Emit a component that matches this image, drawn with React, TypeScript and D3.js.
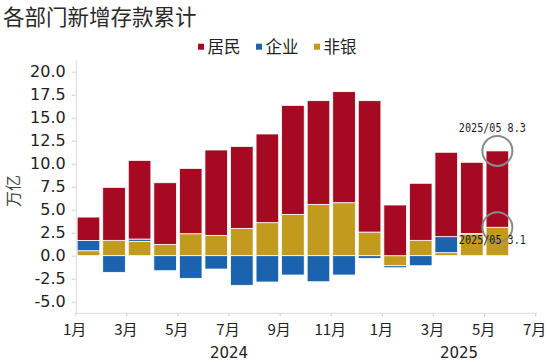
import { useEffect, useRef } from "react";
import * as d3 from "d3";

// cumulative new deposits by sector, trillion yuan
const months = [
  "2024-01", "2024-02", "2024-03", "2024-04", "2024-05", "2024-06",
  "2024-07", "2024-08", "2024-09", "2024-10", "2024-11", "2024-12",
  "2025-01", "2025-02", "2025-03", "2025-04", "2025-05", "2025-06",
];
const household = [2.54, 5.76, 8.55, 6.7, 7.1, 9.28, 8.91, 9.64, 11.85, 11.27, 12.07, 14.28, 5.51, 6.2, 9.17, 7.74, 8.3];
const enterprise = [1.12, -1.81, 0.25, -1.63, -2.46, -1.45, -3.22, -2.86, -2.1, -2.83, -2.1, -0.29, -0.22, -1.09, 1.74, 0.05, 0];
const nonbank = [0.54, 1.67, 1.56, 1.23, 2.39, 2.21, 2.97, 3.59, 4.49, 5.58, 5.76, 2.57, -1.09, 1.67, 0.33, 2.36, 3.09];

const seriesNames = ["居民", "企业", "非银"];
const seriesColors = ["#A50A22", "#1B63AE", "#C29B1E"];
const yTicks = [-5, -2.5, 0, 2.5, 5, 7.5, 10, 12.5, 15, 17.5, 20];
const xTickLabels = ["1月", "3月", "5月", "7月", "9月", "11月", "1月", "3月", "5月", "7月"];
const years = ["2024", "2025"];

const W = 550;
const H = 362;
const CJK = "'Noto Sans CJK SC', sans-serif";

export default function App() {
  const svgRef = useRef<SVGSVGElement | null>(null);

  useEffect(() => {
    const svg = d3.select(svgRef.current);
    svg.selectAll("*").remove();

    const left = 75.7;
    const right = 535.7;
    const bottom = 313.3;

    const x = d3
      .scaleBand<string>()
      .domain(months)
      .range([left, right])
      .paddingInner(0.115)
      .paddingOuter(0.0575);

    // month index -> pixel, for ticks that sit on the band edges
    const xm = d3.scaleLinear().domain([0, months.length]).range([left, right]);

    const y = d3.scaleLinear().domain([-6.26, 21.27]).range([bottom, 60]);

    const rows = household.map((h, i) => ({
      month: months[i],
      hh: h,
      ent: enterprise[i],
      nb: nonbank[i],
    }));

    const keys = ["nb", "ent", "hh"];
    const colorOf: Record<string, string> = {
      hh: seriesColors[0],
      ent: seriesColors[1],
      nb: seriesColors[2],
    };

    const stacked = d3
      .stack<any>()
      .keys(keys)
      .offset(d3.stackOffsetDiverging)(rows);

    // title
    svg
      .append("text")
      .attr("x", 3)
      .attr("y", 24.5)
      .attr("font-family", CJK)
      .attr("font-size", 21.5)
      .attr("fill", "#2a2a2a")
      .text("各部门新增存款累计");

    // legend
    const legend = svg.append("g");
    seriesNames.forEach((name, i) => {
      const lx = 198 + i * 58;
      legend
        .append("rect")
        .attr("x", lx)
        .attr("y", 43.7)
        .attr("width", 6)
        .attr("height", 6)
        .attr("fill", seriesColors[i]);
      legend
        .append("text")
        .attr("x", lx + 9.5)
        .attr("y", 53)
        .attr("font-family", CJK)
        .attr("font-size", 16.5)
        .attr("fill", "#222")
        .text(name);
    });

    // y axis
    const yAxis = svg
      .append("g")
      .attr("transform", `translate(${left},0)`)
      .call(
        d3
          .axisLeft(y)
          .tickValues(yTicks)
          .tickSize(4)
          .tickSizeOuter(0)
          .tickPadding(6)
          .tickFormat((d) => (d as number).toFixed(1))
      );
    yAxis.select(".domain").attr("stroke", "#dcdcdc");
    yAxis.selectAll(".tick line").attr("stroke", "#cfcfcf");
    yAxis
      .selectAll(".tick text")
      .attr("font-family", "'DejaVu Sans', sans-serif")
      .attr("font-size", 16)
      .attr("fill", "#222");

    svg
      .append("text")
      .attr("transform", `translate(18.5,191) rotate(-90)`)
      .attr("text-anchor", "middle")
      .attr("font-family", CJK)
      .attr("font-size", 16)
      .attr("fill", "#444")
      .text("万亿");

    // x axis
    svg
      .append("line")
      .attr("x1", left)
      .attr("x2", right + 1)
      .attr("y1", bottom)
      .attr("y2", bottom)
      .attr("stroke", "#dcdcdc");

    const xg = svg.append("g");
    xTickLabels.forEach((lab, i) => {
      const px = xm(i * 2);
      xg.append("line")
        .attr("x1", px)
        .attr("x2", px)
        .attr("y1", bottom)
        .attr("y2", bottom + 3)
        .attr("stroke", "#cfcfcf");
      xg.append("text")
        .attr("x", px - 1)
        .attr("y", 335)
        .attr("text-anchor", "middle")
        .attr("font-family", CJK)
        .attr("font-size", 15)
        .attr("fill", "#222")
        .text(lab);
    });

    // year labels centred under Jan–Dec 2024 and Jan–Jun 2025
    years.forEach((yr, i) => {
      xg.append("text")
        .attr("x", xm(i === 0 ? 6 : 15))
        .attr("y", 358)
        .attr("text-anchor", "middle")
        .attr("font-family", "'DejaVu Sans', sans-serif")
        .attr("font-size", 15)
        .attr("fill", "#222")
        .text(yr);
    });

    // bars
    svg
      .append("g")
      .selectAll("g")
      .data(stacked)
      .join("g")
      .attr("fill", (s) => colorOf[s.key])
      .selectAll("rect")
      .data((s) => s)
      .join("rect")
      .attr("x", (d) => x(d.data.month) as number)
      .attr("width", x.bandwidth())
      .attr("y", (d) => y(Math.max(d[0], d[1])))
      .attr("height", (d) => Math.abs(y(d[0]) - y(d[1])))
      .attr("stroke", "#fff")
      .attr("stroke-width", 0.8);

    // annotations for the last month
    const last = household.length - 1;
    const cx = (x(months[last]) as number) + x.bandwidth() / 2;
    const topTotal = household[last] + Math.max(0, enterprise[last]) + Math.max(0, nonbank[last]);
    const marks = [
      { v: topTotal, label: `2025/05 ${household[last].toFixed(1)}`, dy: -18.5 },
      { v: nonbank[last], label: `2025/05 ${nonbank[last].toFixed(1)}`, dy: 17 },
    ];
    marks.forEach((m) => {
      svg
        .append("circle")
        .attr("cx", cx)
        .attr("cy", y(m.v))
        .attr("r", 15)
        .attr("fill", "none")
        .attr("stroke", "#8a8a8a")
        .attr("stroke-width", 2);
      svg
        .append("text")
        .attr("x", cx - 38.5)
        .attr("y", y(m.v) + m.dy)
        .attr("font-family", "'DejaVu Sans Mono', monospace")
        .attr("font-size", 12.5)
        .attr("textLength", 67)
        .attr("lengthAdjust", "spacingAndGlyphs")
        .attr("fill", "#1a1a1a")
        .text(m.label);
    });
  }, []);

  return (
    <svg
      ref={svgRef}
      width={W}
      height={H}
      style={{ position: "absolute", left: 0, top: 0, background: "#fff" }}
    />
  );
}
